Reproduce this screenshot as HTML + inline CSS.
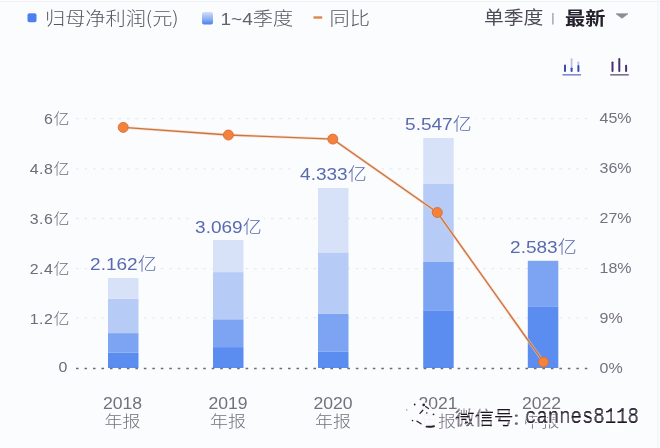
<!DOCTYPE html>
<html><head><meta charset="utf-8">
<style>
html,body{margin:0;padding:0;}
body{width:660px;height:448px;background:#fbfcfe;position:relative;overflow:hidden;}
svg{position:absolute;left:0;top:0;filter:blur(0.35px);}
</style></head><body>
<svg width="660" height="448" viewBox="0 0 660 448" font-weight="300" font-family="Liberation Sans, Noto Sans CJK SC, sans-serif">
  <rect x="0" y="1" width="660" height="1" fill="#f1f2f5"/>
  <rect x="657.5" y="0" width="1" height="448" fill="#eff0f3"/>
  <!-- legend -->
  <rect x="27.5" y="13.3" width="9" height="9" rx="2" fill="#4d7ff0"/>
  <text transform="translate(45,24.5) scale(1.12,1)" font-size="18" fill="#57535f" font-family="Noto Sans CJK SC, sans-serif">归母净利润(元)</text>
  <defs><linearGradient id="lg1" x1="0" y1="0" x2="0" y2="1">
    <stop offset="0" stop-color="#d3def8"/><stop offset="0.55" stop-color="#8fb0f3"/><stop offset="1" stop-color="#4a7ff0"/></linearGradient></defs>
  <rect x="202" y="12" width="11" height="12.5" rx="2" fill="url(#lg1)"/>
  <text transform="translate(220.5,24.5) scale(1.12,1)" font-size="18" fill="#57535f"><tspan font-size="17" fill="#64606e">1~4</tspan>季度</text>
  <rect x="313.5" y="16.3" width="8.7" height="2.4" fill="#dd8750"/>
  <text transform="translate(329.5,24.5) scale(1.12,1)" font-size="18" fill="#57535f">同比</text>
  <text transform="translate(484,24.3) scale(1.1,1)" font-size="18" fill="#4f4b58" font-weight="400">单季度</text>
  <rect x="552.2" y="13" width="1.4" height="11.5" fill="#a4a0ac"/>
  <text transform="translate(565,24.5) scale(1.12,1)" font-size="18" font-weight="bold" fill="#24202c">最新</text>
  <path d="M616 13.8 L628 13.8 L622 18.3 Z" fill="#8e8a96" stroke="#8e8a96" stroke-width="0.7" stroke-linejoin="round"/>
  <!-- icon 1 -->
  <rect x="564" y="64.5" width="2" height="7.5" rx="0.9" fill="#3b48b6"/>
  <rect x="570.7" y="58.3" width="1.8" height="9.5" rx="0.9" fill="#b9bfe8"/>
  <rect x="570.6" y="67.4" width="2" height="4.6" rx="0.9" fill="#3b48b6"/>
  <rect x="577.4" y="61.4" width="1.9" height="4" rx="0.9" fill="#b9bfe8"/>
  <rect x="577.4" y="65" width="2" height="7" rx="0.9" fill="#3b48b6"/>
  <rect x="562.5" y="74.2" width="18.5" height="1.3" fill="#6470c8"/>
  <!-- icon 2 -->
  <rect x="611.5" y="61.4" width="2" height="10.6" rx="0.9" fill="#4b2f6c"/>
  <rect x="618.3" y="58" width="2" height="14" rx="0.9" fill="#4b2f6c"/>
  <rect x="625.1" y="64.8" width="2" height="7.2" rx="0.9" fill="#4b2f6c"/>
  <rect x="610.2" y="74.2" width="18.6" height="1.3" fill="#5e5070"/>

  <!-- grid -->
  <g stroke="#e9eaf0" stroke-width="1.3" stroke-dasharray="2.6 5.88">
    <line x1="76" y1="118.6" x2="588" y2="118.6"/>
    <line x1="76" y1="168.8" x2="588" y2="168.8"/>
    <line x1="76" y1="218.5" x2="588" y2="218.5"/>
    <line x1="76" y1="268.6" x2="588" y2="268.6"/>
    <line x1="76" y1="317.8" x2="588" y2="317.8"/>
  </g>
  <!-- label masks -->
  <g fill="#fbfcfe">
    <rect x="87" y="255" width="73" height="18"/>
    <rect x="191" y="216" width="73" height="18"/>
    <rect x="295" y="164" width="76" height="18"/>
    <rect x="400" y="114" width="76" height="18"/>
  </g>
  <!-- bars -->
  <g>
    <rect x="108" y="352.7" width="30.5" height="15.3" fill="#5b8cf0"/>
    <rect x="108" y="333.1" width="30.5" height="19.6" fill="#7da4f3"/>
    <rect x="108" y="298.8" width="30.5" height="34.3" fill="#b6cbf6"/>
    <rect x="108" y="278" width="30.5" height="20.8" fill="#d7e2f9"/>
    <rect x="213" y="347.1" width="30.5" height="20.9" fill="#5b8cf0"/>
    <rect x="213" y="319.3" width="30.5" height="27.8" fill="#7da4f3"/>
    <rect x="213" y="272.1" width="30.5" height="47.2" fill="#b6cbf6"/>
    <rect x="213" y="240" width="30.5" height="32.1" fill="#d7e2f9"/>
    <rect x="318" y="351.8" width="30.5" height="16.2" fill="#5b8cf0"/>
    <rect x="318" y="313.9" width="30.5" height="37.9" fill="#7da4f3"/>
    <rect x="318" y="252.4" width="30.5" height="61.5" fill="#b6cbf6"/>
    <rect x="318" y="188" width="30.5" height="64.4" fill="#d7e2f9"/>
    <rect x="423.2" y="310.3" width="30.5" height="57.7" fill="#5b8cf0"/>
    <rect x="423.2" y="262" width="30.5" height="48.3" fill="#7da4f3"/>
    <rect x="423.2" y="183.5" width="30.5" height="78.5" fill="#b6cbf6"/>
    <rect x="423.2" y="138" width="30.5" height="45.5" fill="#d7e2f9"/>
    <rect x="527.8" y="306.3" width="30.5" height="61.7" fill="#5b8cf0"/>
    <rect x="527.8" y="260.8" width="30.5" height="45.5" fill="#7da4f3"/>
  </g>
  <line x1="76" y1="368.4" x2="588" y2="368.4" stroke="#6f6c78" stroke-width="1.5" stroke-dasharray="2.6 5.88"/>
  <!-- yoy line -->
  <polyline points="123.2,127.4 228.4,135 332.8,139.1 437.3,212.5 543.5,362" fill="none" stroke="#f6d2b6" stroke-width="2.8" opacity="0.7"/>
  <polyline points="123.2,127.4 228.4,135 332.8,139.1 437.3,212.5 543.5,362" fill="none" stroke="#cd7440" stroke-width="1.35"/>
  <g fill="#f5813a" stroke="#d4703a" stroke-width="0.9">
    <circle cx="123.2" cy="127.4" r="5"/>
    <circle cx="228.4" cy="135" r="5"/>
    <circle cx="332.8" cy="139.1" r="5"/>
    <circle cx="437.3" cy="212.5" r="5"/>
    <circle cx="543.5" cy="362" r="5"/>
  </g>
  <!-- left axis -->
  <g font-size="14.5" fill="#6e6a78" text-anchor="end" letter-spacing="0.5">
    <text transform="translate(70,123.5) scale(1.1,1)">6亿</text>
    <text transform="translate(70,173.5) scale(1.1,1)">4.8亿</text>
    <text transform="translate(70,223.5) scale(1.1,1)">3.6亿</text>
    <text transform="translate(70,273.5) scale(1.1,1)">2.4亿</text>
    <text transform="translate(70,323.5) scale(1.1,1)">1.2亿</text>
    <text transform="translate(68,372) scale(1.1,1)">0</text>
  </g>
  <!-- right axis -->
  <g font-size="14.3" fill="#75717f">
    <text transform="translate(599.5,123) scale(1.12,1)">45%</text>
    <text transform="translate(599.5,173) scale(1.12,1)">36%</text>
    <text transform="translate(599.5,223) scale(1.12,1)">27%</text>
    <text transform="translate(599.5,273) scale(1.12,1)">18%</text>
    <text transform="translate(599.5,323) scale(1.12,1)">9%</text>
    <text transform="translate(599.5,373) scale(1.12,1)">0%</text>
  </g>
  <!-- value labels -->
  <g font-size="17" fill="#5a6aae" text-anchor="middle" font-weight="300">
    <text transform="translate(123.4,270) scale(1.12,1)">2.162亿</text>
    <text transform="translate(228.4,233.2) scale(1.12,1)">3.069亿</text>
    <text transform="translate(333.4,180) scale(1.12,1)">4.333亿</text>
    <text transform="translate(438.4,129.5) scale(1.12,1)">5.547亿</text>
    <text transform="translate(543.4,252.5) scale(1.12,1)">2.583亿</text>
  </g>
  <!-- x labels -->
  <g fill="#74707e" text-anchor="middle" font-size="16">
    <text transform="translate(122.5,408.5) scale(1.1,1)">2018</text>
    <text transform="translate(228,408.5) scale(1.1,1)">2019</text>
    <text transform="translate(333,408.5) scale(1.1,1)">2020</text>
    <text transform="translate(438,408.5) scale(1.1,1)">2021</text>
    <text transform="translate(541.5,408.5) scale(1.1,1)">2022</text>
    <text transform="translate(122.5,427) scale(1.12,1)">年报</text>
    <text transform="translate(228,427) scale(1.12,1)">年报</text>
    <text transform="translate(333,427) scale(1.12,1)">年报</text>
    <text transform="translate(438,427) scale(1.12,1)">年报</text>
    <text transform="translate(541.5,427) scale(1.12,1)">中报</text>
  </g>
  <!-- watermark -->
  <g fill="#fcfcfe" opacity="0.95"><ellipse cx="418.5" cy="416" rx="15.5" ry="15"/><rect x="420" y="411" width="18.5" height="19" rx="3"/></g>
  <g fill="none" stroke="#2a2232" stroke-linecap="round">
    <path d="M417 421.2 L421 423.8" stroke-width="1.3"/>
    <path d="M426.5 426.6 Q430 427 434 426.2" stroke-width="1.9"/>
    <path d="M420 413.4 L422.8 410.3" stroke-width="1.3"/>
    <path d="M425.5 406.5 L428.5 408.5" stroke-width="1.2"/>
  </g>
  <g fill="#2a2232">
    <circle cx="414.7" cy="404.5" r="0.9"/>
    <circle cx="423.7" cy="404.9" r="1.3"/>
    <circle cx="406.7" cy="409.9" r="0.7" opacity="0.6"/>
    <circle cx="426.8" cy="413" r="0.8"/>
    <circle cx="433.5" cy="414.3" r="0.9"/>
    <circle cx="412.5" cy="420.6" r="0.8"/>
  </g>
  <defs>
    <filter id="wm" x="-5%" y="-20%" width="110%" height="140%">
      <feMorphology in="SourceAlpha" operator="erode" radius="0.9 0" result="e"/>
      <feMorphology in="e" operator="dilate" radius="0.7 0.35" result="d"/>
      <feFlood flood-color="#1e1826"/>
      <feComposite in2="d" operator="in" result="dark"/>
      <feFlood flood-color="#2a2432" flood-opacity="0.45"/>
      <feComposite in2="SourceAlpha" operator="in" result="light"/>
      <feMerge><feMergeNode in="light"/><feMergeNode in="dark"/></feMerge>
    </filter>
    <filter id="wm2" x="-5%" y="-20%" width="110%" height="140%">
      <feMorphology in="SourceAlpha" operator="erode" radius="0.5 0" result="e"/>
      <feMorphology in="e" operator="dilate" radius="0.5 0.3" result="d"/>
      <feFlood flood-color="#1e1826"/>
      <feComposite in2="d" operator="in" result="dark"/>
      <feFlood flood-color="#2a2432" flood-opacity="0.75"/>
      <feComposite in2="SourceAlpha" operator="in" result="light"/>
      <feMerge><feMergeNode in="light"/><feMergeNode in="dark"/></feMerge>
    </filter>
  </defs>
  <g fill="#fdfdff" stroke="#fdfdff" stroke-width="2.2" font-weight="400" opacity="0.9">
    <text x="455" y="424.5" font-size="19.5" font-family="Noto Sans CJK SC, sans-serif">微信号:</text>
    <text transform="translate(525,423) scale(1,1.18)" font-size="19" font-weight="400" font-family="Liberation Mono, Noto Sans CJK SC, monospace">cannes8118</text>
  </g>
  <g fill="#221c2a" font-weight="400" filter="url(#wm)">
    <text x="455" y="424.5" font-size="19.5" font-family="Noto Sans CJK SC, sans-serif">微信号:</text>
  </g>
  <g fill="#221c2a" font-weight="400" filter="url(#wm2)">
    <text transform="translate(525,423) scale(1,1.18)" font-size="19" font-weight="400" font-family="Liberation Mono, Noto Sans CJK SC, monospace">cannes8118</text>
  </g>
</svg>
</body></html>
